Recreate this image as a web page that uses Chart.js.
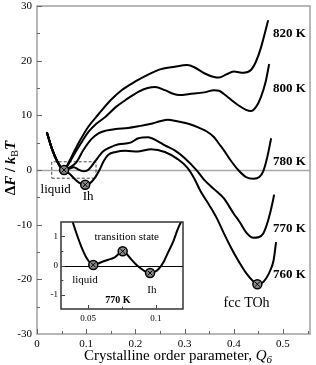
<!DOCTYPE html>
<html>
<head>
<meta charset="utf-8">
<script src="https://cdn.jsdelivr.net/npm/chart.js@4.4.0/dist/chart.umd.min.js"></script>
<style>
  body { margin: 0; background: #fff; }
  #wrap { position: relative; width: 316px; height: 365px; }
  #main { position: absolute; left: 0; top: 0; }
  #inset { position: absolute; left: 40px; top: 214px; }
</style>
</head>
<body>
<div id="wrap">
  <canvas id="main" width="316" height="365"></canvas>
  <canvas id="inset" width="150" height="112"></canvas>
</div>
<script>
// free energy profiles, [Q6, dF/kT]
var t820 = [[0.02,6.9],[0.03,4.0],[0.04,1.8],[0.054,0],[0.065,1.5],[0.075,3.3],[0.09,5.8],[0.105,8.0],[0.125,10.2],[0.15,12.8],[0.172,14.6],[0.2,16.2],[0.225,17.4],[0.25,18.4],[0.28,18.9],[0.305,19.2],[0.32,18.8],[0.34,17.7],[0.36,17.0],[0.37,16.9],[0.385,17.5],[0.4,18.0],[0.42,17.8],[0.435,18.3],[0.445,19.8],[0.455,22.3],[0.47,27.4]];
var t800 = [[0.02,6.9],[0.03,4.0],[0.04,1.8],[0.054,0],[0.065,1.2],[0.075,2.8],[0.09,5.0],[0.105,7.0],[0.12,8.4],[0.14,9.8],[0.16,11.5],[0.18,12.8],[0.206,14.3],[0.225,15.0],[0.24,15.2],[0.26,14.6],[0.275,14.0],[0.29,13.7],[0.31,13.9],[0.34,14.2],[0.36,14.6],[0.37,14.5],[0.38,13.9],[0.395,12.8],[0.41,11.8],[0.425,11.0],[0.435,10.8],[0.445,11.5],[0.455,13.3],[0.465,16.2],[0.472,19.4]];
var t780 = [[0.02,6.9],[0.03,4.0],[0.04,1.8],[0.054,0],[0.065,0.4],[0.08,1.4],[0.094,3.6],[0.11,5.6],[0.125,6.7],[0.14,7.2],[0.16,7.5],[0.185,7.7],[0.206,8.0],[0.23,8.4],[0.25,8.9],[0.266,9.2],[0.285,8.9],[0.306,8.5],[0.33,7.7],[0.346,7.0],[0.36,6.0],[0.37,4.8],[0.38,3.6],[0.395,1.6],[0.41,-0.1],[0.425,-1.3],[0.44,-1.6],[0.452,-1.3],[0.46,-0.2],[0.468,2.3],[0.476,5.8]];
var t770 = [[0.02,6.9],[0.03,4.0],[0.04,1.8],[0.054,0],[0.065,0.2],[0.075,0.5],[0.085,0.05],[0.096,-0.25],[0.105,0.1],[0.12,1.8],[0.134,3.4],[0.15,4.2],[0.166,4.7],[0.19,5.0],[0.206,5.8],[0.226,6.0],[0.245,5.3],[0.26,4.5],[0.28,3.6],[0.3,2.2],[0.326,-0.2],[0.34,-1.8],[0.36,-3.5],[0.38,-5.2],[0.4,-8.0],[0.412,-9.5],[0.426,-11.5],[0.44,-12.4],[0.45,-12.3],[0.46,-11.6],[0.47,-9.2],[0.48,-5.5],[0.482,-4.5]];
var t760 = [[0.02,6.9],[0.03,4.0],[0.04,1.8],[0.054,0],[0.065,-0.6],[0.075,-1.5],[0.087,-2.4],[0.098,-2.7],[0.108,-2.4],[0.118,-1.4],[0.127,0.0],[0.136,1.7],[0.145,2.8],[0.16,3.3],[0.18,3.5],[0.206,3.4],[0.232,3.8],[0.26,3.3],[0.286,2.0],[0.306,0.4],[0.32,-1.6],[0.332,-3.8],[0.35,-6.4],[0.366,-8.9],[0.38,-11.6],[0.395,-14.3],[0.412,-17],[0.428,-19.2],[0.44,-20.4],[0.448,-20.9],[0.457,-20.7],[0.466,-19.8],[0.475,-18.2],[0.481,-16.5],[0.486,-13.2]];
var temps = ['820 K', '800 K', '780 K', '770 K', '760 K'];
var states = [[0.055,0],[0.098,-2.7],[0.448,-20.9]];   // liquid, Ih, fcc TOh
var zoomBox = [[0.03,-1.5],[0.12,-1.5],[0.12,1.5],[0.03,1.5],[0.03,-1.5]];

// inset, 770 K near the liquid/Ih minima
var i770 = [[0.038,1.6],[0.04,1.3],[0.0449,0.66],[0.049,0.25],[0.0536,0.03],[0.058,0.08],[0.061,0.14],[0.065,0.2],[0.0696,0.28],[0.073,0.42],[0.0755,0.49],[0.078,0.42],[0.082,0.2],[0.085,0.05],[0.088,-0.07],[0.092,-0.2],[0.0957,-0.26],[0.099,-0.22],[0.102,-0.12],[0.106,0.15],[0.109,0.45],[0.113,0.85],[0.116,1.24],[0.12,1.65]];
var insetStates = [[0.0538,0.02],[0.0755,0.49],[0.0957,-0.26]];

var xTicks = [0, 0.1, 0.2, 0.3, 0.4, 0.5];
var xMinor = [0.05, 0.15, 0.25, 0.35, 0.45, 0.55];
var yTicks = [-30, -20, -10, 0, 10, 20, 30];
var yMinor = [-25, -15, -5, 5, 15, 25];
var ixTicks = [0.05, 0.1];
var ixMinor = [0.075];
var iyTicks = [-1, 0, 1];
var iyMinor = [-0.5, 0.5];

var SERIF = '"Liberation Serif", "DejaVu Serif", serif';

function pts(arr) {
    return arr.map(function(p) { return {x: p[0], y: p[1]}; });
}

function curve(arr, n) {
    return {
        data: pts(arr),
        borderColor: '#000',
        borderWidth: 2,
        pointRadius: 0,
        cubicInterpolationMode: 'monotone',
        order: n
    };
}

function markerSets(arr) {
    return [{
        data: pts(arr), showLine: false, pointStyle: 'crossRot', pointRadius: 3.5,
        borderColor: '#000', borderWidth: 1, order: -2
    }, {
        data: pts(arr), showLine: false, pointStyle: 'circle', pointRadius: 4.5,
        backgroundColor: '#8a8a8a', borderColor: '#000', borderWidth: 1.5, order: -1
    }];
}

function drawTicks(chart, xs, len, color) {
    var ctx = chart.ctx, a = chart.chartArea;
    ctx.save();
    ctx.strokeStyle = color;
    ctx.lineWidth = 1;
    ctx.beginPath();
    xs.x.forEach(function(v) {
        var p = Math.round(chart.scales.x.getPixelForValue(v)) + 0.5;
        if (p < a.left || p > a.right) return;
        ctx.moveTo(p, a.bottom);
        ctx.lineTo(p, a.bottom - (xs.xMajor ? len : len * 0.6));
    });
    xs.y.forEach(function(v) {
        var p = Math.round(chart.scales.y.getPixelForValue(v)) + 0.5;
        if (p < a.top || p > a.bottom) return;
        ctx.moveTo(a.left, p);
        ctx.lineTo(a.left + (xs.yMajor ? len : len * 0.6), p);
    });
    ctx.stroke();
    ctx.restore();
}

// draw a run of text pieces, each with its own font and baseline shift
function richText(ctx, parts, cx, cy) {
    var w = 0;
    parts.forEach(function(p) { ctx.font = p.f; w += ctx.measureText(p.t).width; });
    var x = cx - w / 2;
    ctx.textBaseline = 'middle';
    ctx.textAlign = 'left';
    parts.forEach(function(p) {
        ctx.font = p.f;
        ctx.fillText(p.t, x, cy + (p.dy || 0));
        x += ctx.measureText(p.t).width;
    });
}

function textAt(chart, s, x, y, font, align) {
    var ctx = chart.ctx;
    ctx.font = font;
    ctx.fillStyle = '#000';
    ctx.textAlign = align || 'center';
    ctx.textBaseline = 'middle';
    ctx.fillText(s, chart.scales.x.getPixelForValue(x), chart.scales.y.getPixelForValue(y));
}

var mainDecor = {
    id: 'mainDecor',
    beforeDatasetsDraw: function(chart) {
        var ctx = chart.ctx, a = chart.chartArea;
        var y0 = Math.round(chart.scales.y.getPixelForValue(0)) + 0.5;
        ctx.save();
        ctx.strokeStyle = '#a8a8a8';
        ctx.lineWidth = 1.5;
        ctx.beginPath();
        ctx.moveTo(a.left, y0);
        ctx.lineTo(a.right, y0);
        ctx.stroke();
        ctx.restore();
    },
    afterDraw: function(chart) {
        var ctx = chart.ctx, a = chart.chartArea;
        ctx.save();
        ctx.strokeStyle = '#a0a0a0';
        ctx.lineWidth = 1.5;
        ctx.strokeRect(a.left, a.top, a.right - a.left, a.bottom - a.top);
        ctx.restore();
        drawTicks(chart, {x: xTicks, y: yTicks, xMajor: true, yMajor: true}, 5, '#666');
        drawTicks(chart, {x: xMinor, y: yMinor}, 5, '#666');

        ctx.save();
        var bold = 'bold 13px ' + SERIF;
        var yLab = [24.9, 14.9, 1.6, -10.7, -19.1];
        temps.forEach(function(t, i) { textAt(chart, t, 0.48, yLab[i], bold, 'left'); });
        textAt(chart, 'liquid', 0.038, -3.6, '13px ' + SERIF);
        textAt(chart, 'Ih', 0.104, -4.8, '13px ' + SERIF);
        textAt(chart, 'fcc TOh', 0.426, -24.4, '14px ' + SERIF);

        // axis titles
        ctx.fillStyle = '#000';
        richText(ctx, [
            {t: 'Crystalline order parameter, ', f: '15px ' + SERIF},
            {t: 'Q', f: 'italic 15px ' + SERIF},
            {t: '6', f: 'italic 11px ' + SERIF, dy: 4}
        ], 178, 356);
        ctx.translate(11, 168);
        ctx.rotate(-Math.PI / 2);
        richText(ctx, [
            {t: '\u0394', f: 'bold 15px ' + SERIF},
            {t: 'F', f: 'bold italic 15px ' + SERIF},
            {t: ' / ', f: 'bold 15px ' + SERIF},
            {t: 'k', f: 'bold italic 15px ' + SERIF},
            {t: 'B', f: '10px ' + SERIF, dy: 4},
            {t: 'T', f: 'bold italic 15px ' + SERIF}
        ], 0, 0);
        ctx.restore();
    }
};

var insetDecor = {
    id: 'insetDecor',
    beforeDraw: function(chart) {
        var ctx = chart.ctx, a = chart.chartArea;
        ctx.save();
        ctx.fillStyle = '#fff';
        ctx.fillRect(a.left, a.top, a.right - a.left, a.bottom - a.top);
        ctx.restore();
    },
    beforeDatasetsDraw: function(chart) {
        var ctx = chart.ctx, a = chart.chartArea;
        var y0 = Math.round(chart.scales.y.getPixelForValue(0)) + 0.5;
        ctx.save();
        ctx.strokeStyle = '#000';
        ctx.lineWidth = 1;
        ctx.beginPath();
        ctx.moveTo(a.left, y0);
        ctx.lineTo(a.right, y0);
        ctx.stroke();
        ctx.restore();
    },
    afterDraw: function(chart) {
        var ctx = chart.ctx, a = chart.chartArea;
        ctx.save();
        ctx.strokeStyle = '#333';
        ctx.lineWidth = 1.5;
        ctx.strokeRect(a.left, a.top, a.right - a.left, a.bottom - a.top);
        ctx.restore();
        drawTicks(chart, {x: ixTicks, y: iyTicks, xMajor: true, yMajor: true}, 4, '#444');
        drawTicks(chart, {x: ixMinor, y: iyMinor}, 4, '#444');
        ctx.save();
        textAt(chart, 'transition state', 0.0785, 0.98, '11px ' + SERIF);
        textAt(chart, 'liquid', 0.0477, -0.5, '11px ' + SERIF);
        textAt(chart, 'Ih', 0.097, -0.85, '11px ' + SERIF);
        textAt(chart, '770 K', 0.072, -1.2, 'bold 10px ' + SERIF);
        ctx.restore();
    }
};

function fixTicks(list) {
    return function(s) { s.ticks = list.map(function(v) { return {value: v}; }); };
}

// fixed axis box, no extra room for edge labels
function fitBox(size) {
    return function(s) {
        if (s.isHorizontal()) s.height = size; else s.width = size;
        s.paddingTop = 0; s.paddingBottom = 0; s.paddingLeft = 0; s.paddingRight = 0;
    };
}

var noGrid = { display: false, drawTicks: false };

var mainChart = new Chart(document.getElementById('main').getContext('2d'), {
    type: 'line',
    data: {
        datasets: [curve(t820, 1), curve(t800, 2), curve(t780, 3), curve(t770, 4), curve(t760, 5), {
            data: pts(zoomBox), borderColor: '#444', borderWidth: 1, borderDash: [3, 2],
            pointRadius: 0, tension: 0, order: 6
        }].concat(markerSets(states))
    },
    options: {
        responsive: false,
        animation: false,
        events: [],
        layout: { padding: { top: 4, right: 2, left: 0, bottom: 0 } },
        plugins: { legend: { display: false }, tooltip: { enabled: false } },
        scales: {
            x: {
                type: 'linear', min: 0, max: 0.555,
                afterBuildTicks: fixTicks(xTicks),
                afterFit: fitBox(31),
                grid: noGrid,
                border: { display: false },
                ticks: { padding: 4, color: '#000', maxRotation: 0, autoSkip: false,
                    font: { family: SERIF, size: 11 }, callback: function(v) { return String(v); } }
            },
            y: {
                type: 'linear', min: -30, max: 30,
                afterBuildTicks: fixTicks(yTicks),
                afterFit: fitBox(37),
                grid: noGrid,
                border: { display: false },
                ticks: { padding: 5, color: '#000', font: { family: SERIF, size: 11 } }
            }
        }
    },
    plugins: [mainDecor]
});

var insetChart = new Chart(document.getElementById('inset').getContext('2d'), {
    type: 'line',
    data: {
        datasets: [curve(i770, 1)].concat(markerSets(insetStates))
    },
    options: {
        responsive: false,
        animation: false,
        events: [],
        layout: { padding: { top: 8, right: 7, left: 0, bottom: 0 } },
        plugins: { legend: { display: false }, tooltip: { enabled: false } },
        scales: {
            x: {
                type: 'linear', min: 0.03, max: 0.12,
                afterBuildTicks: fixTicks(ixTicks),
                afterFit: fitBox(17),
                grid: noGrid,
                border: { display: false },
                ticks: { padding: 4, color: '#000', maxRotation: 0, autoSkip: false,
                    font: { family: SERIF, size: 9 }, callback: function(v) { return String(v); } }
            },
            y: {
                type: 'linear', min: -1.5, max: 1.5,
                afterBuildTicks: fixTicks(iyTicks),
                afterFit: fitBox(21),
                grid: noGrid,
                border: { display: false },
                ticks: { padding: 3, color: '#000', font: { family: SERIF, size: 9 } }
            }
        }
    },
    plugins: [insetDecor]
});
</script>
</body>
</html>
